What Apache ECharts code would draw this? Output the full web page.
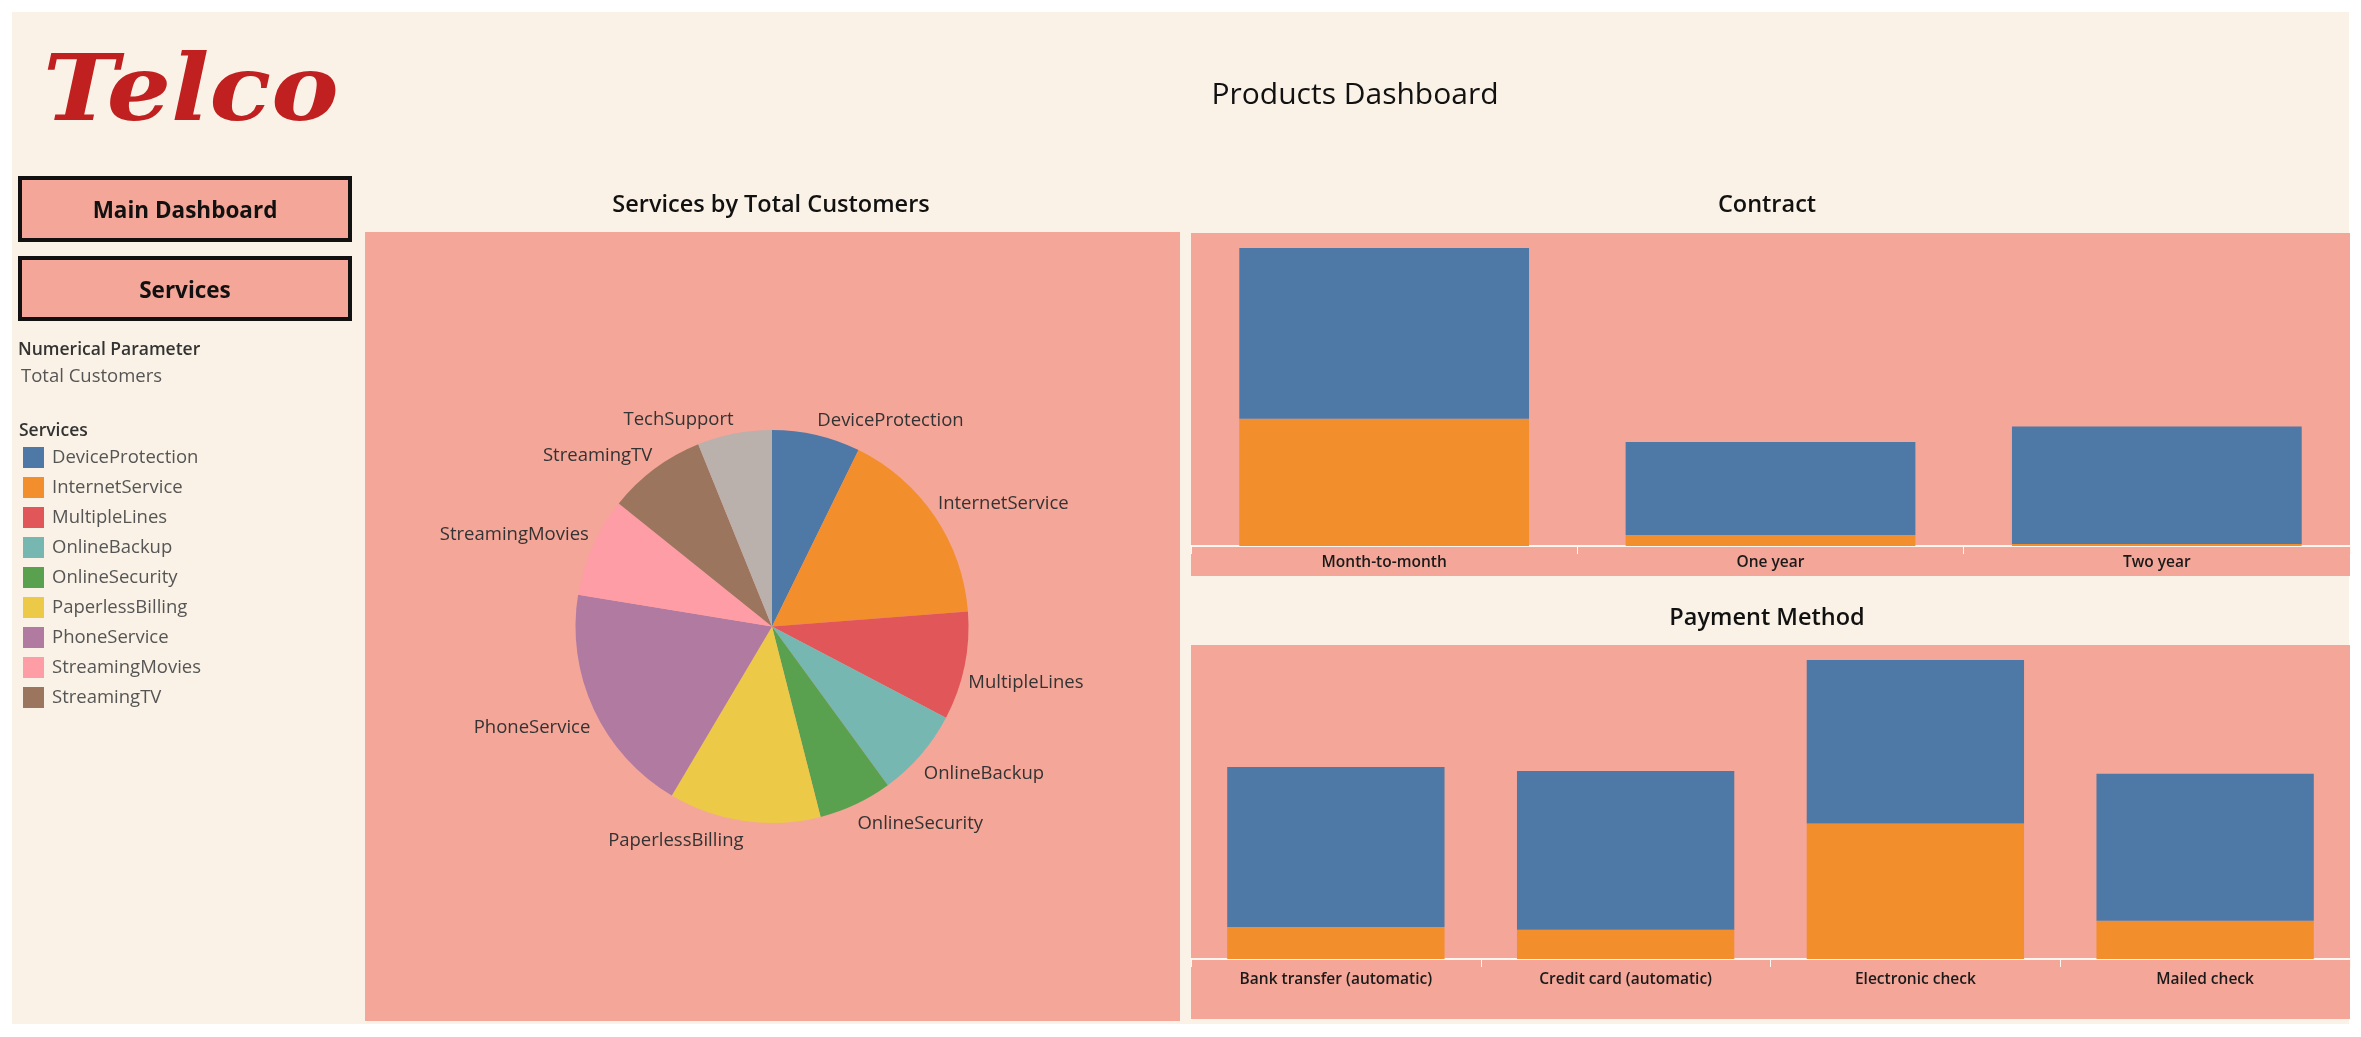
<!DOCTYPE html>
<html>
<head>
<meta charset="utf-8">
<script src="https://cdn.jsdelivr.net/npm/echarts@6/dist/echarts.min.js"></script>
<style>
html,body{margin:0;padding:0;background:#ffffff;}
#chart{width:2361px;height:1037px;}
</style>
</head>
<body>
<div id="chart"></div>
<script>
// ---- data ----
const serviceNames = ['DeviceProtection','InternetService','MultipleLines','OnlineBackup','OnlineSecurity','PaperlessBilling','PhoneService','StreamingMovies','StreamingTV','TechSupport'];
const serviceCustomers = [2422, 5517, 2971, 2429, 2019, 4171, 6361, 2732, 2707, 2044];
const serviceColors = ['#4E79A7','#F28E2B','#E15759','#76B7B2','#59A14F','#EDC948','#B07AA1','#FF9DA7','#9C755F','#BAB0AC'];
const legendNames = ['DeviceProtection','InternetService','MultipleLines','OnlineBackup','OnlineSecurity','PaperlessBilling','PhoneService','StreamingMovies','StreamingTV'];

const contractCategories = ['Month-to-month','One year','Two year'];
const contractChurnYes = [1655, 143, 26];
const contractChurnNo = [2220, 1210, 1527];

const paymentCategories = ['Bank transfer (automatic)','Credit card (automatic)','Electronic check','Mailed check'];
const paymentChurnYes = [253, 232, 1071, 303];
const paymentChurnNo = [1266, 1255, 1294, 1163];

// ---- style ----
const CREAM = '#FAF2E6';
const PINK = '#F4A698';
const FONT = '"Open Sans", "Noto Sans", sans-serif';
const BLUE = '#4E79A7', ORANGE = '#F28E2B';
const PIE_CENTER = [772, 626.5];

const chart = echarts.init(document.getElementById('chart'), null, {renderer:'canvas'});

const pieData = serviceNames.map((n,i)=>({name:n, value:serviceCustomers[i], itemStyle:{color:serviceColors[i]}}));

function xAxisCommon(idx, cats, margin){
  return {
    type:'category', gridIndex: idx, data: cats,
    axisLine:{show:true, lineStyle:{color:'#FFF6F0', width:2}},
    axisTick:{show:true, length:8, lineStyle:{color:'#FFF6F0', width:1}},
    axisLabel:{color:'#1a1a1a', fontSize:15.5, fontWeight:600, fontFamily:FONT, margin: margin}
  };
}

// Tableau-like label placement: label corner nearest the pie touches the slice edge
function pieLabelLayout(params){
  const r = params.labelRect;
  const cxLabel = r.x + r.width / 2;
  const cyLabel = r.y + r.height / 2;
  const right = cxLabel > PIE_CENTER[0];
  const above = cyLabel < PIE_CENTER[1];
  return {
    dx: right ? -5 : 5,
    dy: above ? -10 : 16
  };
}

const option = {
  backgroundColor:'#ffffff',
  animation:false,
  textStyle:{fontFamily:FONT},
  graphic:[
    {type:'rect', z:-10, shape:{x:12, y:12, width:2337, height:1012}, style:{fill:CREAM}},
    {type:'rect', z:-9, shape:{x:365, y:232, width:815, height:789}, style:{fill:PINK}},
    {type:'rect', z:-9, shape:{x:1191, y:233, width:1159, height:343}, style:{fill:PINK}},
    {type:'rect', z:-9, shape:{x:1191, y:645, width:1159, height:374}, style:{fill:PINK}},
    {type:'text', z:10, x:43, y:142, scaleX:1.10, style:{text:'Telco', fill:'#C0201F', font:'italic bold 92px "DejaVu Serif", serif', textVerticalAlign:'bottom', textAlign:'left'}},
    {type:'rect', z:1, shape:{x:20, y:178, width:330, height:62}, style:{fill:PINK, stroke:'#111', lineWidth:4}},
    {type:'text', z:10, x:185, y:212, style:{text:'Main Dashboard', fill:'#111', font:'bold 22.5px ' + FONT, textAlign:'center', textVerticalAlign:'middle'}},
    {type:'rect', z:1, shape:{x:20, y:258, width:330, height:61}, style:{fill:PINK, stroke:'#111', lineWidth:4}},
    {type:'text', z:10, x:185, y:292, style:{text:'Services', fill:'#111', font:'bold 22.5px ' + FONT, textAlign:'center', textVerticalAlign:'middle'}},
    {type:'text', z:10, x:18, y:350, style:{text:'Numerical Parameter', fill:'#333', font:'600 17.5px ' + FONT, textVerticalAlign:'middle'}},
    {type:'text', z:10, x:21, y:377, style:{text:'Total Customers', fill:'#555', font:'18.5px ' + FONT, textVerticalAlign:'middle'}},
    {type:'text', z:10, x:19, y:431, style:{text:'Services', fill:'#333', font:'600 17.5px ' + FONT, textVerticalAlign:'middle'}}
  ],
  title:[
    {text:'Products Dashboard', left:1350, top:90, textAlign:'center', textVerticalAlign:'middle', textStyle:{fontSize:30, fontWeight:'normal', color:'#111', fontFamily:FONT}},
    {text:'Services by Total Customers', left:766, top:200, textAlign:'center', textVerticalAlign:'middle', textStyle:{fontSize:23.5, fontWeight:600, color:'#111', fontFamily:FONT}},
    {text:'Contract', left:1762, top:200, textAlign:'center', textVerticalAlign:'middle', textStyle:{fontSize:23.5, fontWeight:600, color:'#111', fontFamily:FONT}},
    {text:'Payment Method', left:1762, top:613, textAlign:'center', textVerticalAlign:'middle', textStyle:{fontSize:23.5, fontWeight:600, color:'#111', fontFamily:FONT}}
  ],
  legend:{
    orient:'vertical', left:23, top:447, padding:0,
    data: legendNames, icon:'rect', itemWidth:21, itemHeight:21, itemGap:9,
    textStyle:{color:'#555', fontSize:18.5, fontFamily:FONT, padding:[0,0,0,3]},
    selectedMode:false
  },
  grid:[
    {left:1191, width:1159, top:233, height:313, containLabel:false},
    {left:1191, width:1159, top:645, height:314, containLabel:false}
  ],
  xAxis:[
    xAxisCommon(0, contractCategories, 9),
    xAxisCommon(1, paymentCategories, 13)
  ],
  yAxis:[
    {type:'value', gridIndex:0, min:0, max:4070, show:false, splitLine:{show:false}},
    {type:'value', gridIndex:1, min:0, max:2484, show:false, splitLine:{show:false}}
  ],
  series:[
    {type:'pie', name:'Services', center:PIE_CENTER, radius:196.5, startAngle:90, clockwise:true,
     data: pieData,
     label:{show:true, position:'outside', color:'#333', fontSize:18.5, fontFamily:FONT},
     labelLine:{show:false, length:4, length2:0},
     labelLayout: pieLabelLayout,
     itemStyle:{borderWidth:0},
     emphasis:{disabled:true}
    },
    {type:'bar', name:'Churn Yes', xAxisIndex:0, yAxisIndex:0, stack:'c', data:contractChurnYes, barCategoryGap:'25%', itemStyle:{color:ORANGE}},
    {type:'bar', name:'Churn No', xAxisIndex:0, yAxisIndex:0, stack:'c', data:contractChurnNo, barCategoryGap:'25%', itemStyle:{color:BLUE}},
    {type:'bar', name:'Churn Yes', xAxisIndex:1, yAxisIndex:1, stack:'p', data:paymentChurnYes, barCategoryGap:'25%', itemStyle:{color:ORANGE}},
    {type:'bar', name:'Churn No', xAxisIndex:1, yAxisIndex:1, stack:'p', data:paymentChurnNo, barCategoryGap:'25%', itemStyle:{color:BLUE}}
  ]
};
chart.setOption(option);
</script>
</body>
</html>
